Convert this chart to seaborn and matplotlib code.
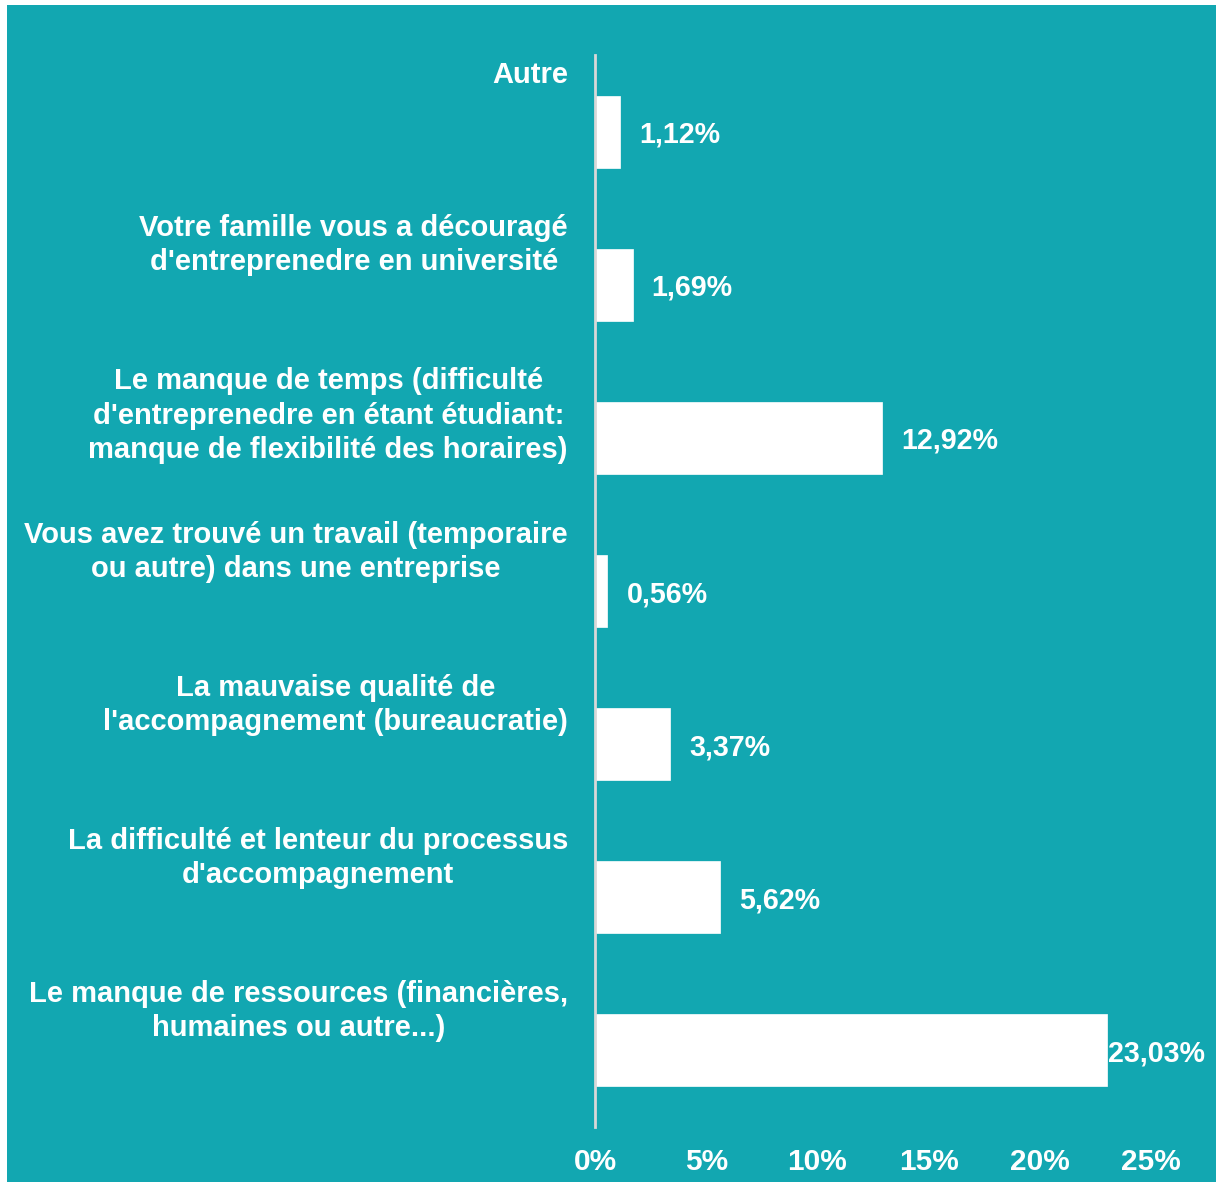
import matplotlib
matplotlib.use("Agg")
import matplotlib.pyplot as plt
import matplotlib.patches as mpatches
import matplotlib.transforms as mtransforms
import seaborn as sns
import pandas as pd

categories = [
    "Autre",
    "Votre famille vous a découragé\nd'entreprenedre en université",
    "Le manque de temps (difficulté\nd'entreprenedre en étant étudiant:\nmanque de flexibilité des horaires)",
    "Vous avez trouvé un travail (temporaire\nou autre) dans une entreprise",
    "La mauvaise qualité de\nl'accompagnement (bureaucratie)",
    "La difficulté et lenteur du processus\nd'accompagnement",
    "Le manque de ressources (financières,\nhumaines ou autre...)",
]
values = [1.12, 1.69, 12.92, 0.56, 3.37, 5.62, 23.03]
tick_values = [0, 5, 10, 15, 20, 25]
tick_labels = ["0%", "5%", "10%", "15%", "20%", "25%"]

TEAL = "#12A7B1"
FONT = ["Liberation Sans", "DejaVu Sans"]

sns.set_theme(style="white")
plt.rcParams["font.family"] = FONT

W, H = 1216, 1182
fig = plt.figure(figsize=(W / 100, H / 100), dpi=100, facecolor="white")
fig.patches.append(mpatches.Rectangle((7 / W, 0), 1 - 7 / W, 1 - 5 / H,
                                      transform=fig.transFigure,
                                      facecolor=TEAL, edgecolor="none", zorder=-10))

ax_left, ax_right = 595 / W, 1151 / W
ax_top, ax_bottom = 1 - 55 / H, 1 - 1127 / H
ax = fig.add_axes([ax_left, ax_bottom, ax_right - ax_left, ax_top - ax_bottom])
ax.set_facecolor("none")
ax.set_zorder(5)

df = pd.DataFrame({"cat": categories, "val": values})
sns.barplot(data=df, y="cat", x="val", orient="h", order=categories,
            color="white", edgecolor="white", linewidth=0.5, width=0.47,
            saturation=1, ax=ax)

ax.set_xlim(0, 25)
ax.set_ylim(len(categories) - 0.5, -0.5)
ax.set_xticks(tick_values)
ax.set_xticklabels(tick_labels)
ax.set_yticks([])
ax.set_xlabel("")
ax.set_ylabel("")
ax.tick_params(axis="x", length=0, pad=15, labelsize=21.5, labelcolor="white")
for lab in ax.get_xticklabels():
    lab.set_fontweight("bold")
    lab.set_family(["Liberation Sans Narrow", "Liberation Sans", "DejaVu Sans"])

for s in ["top", "right", "bottom"]:
    ax.spines[s].set_visible(False)
ax.spines["left"].set_color("#d8d8d8")
ax.spines["left"].set_linewidth(2)

# category labels
lab_trans = mtransforms.offset_copy(ax.get_yaxis_transform(), fig=fig, x=-27, y=0, units="dots")
for i, cat in enumerate(categories):
    ax.text(0, i - 0.5 + 0.04, cat, transform=lab_trans, ha="right", va="top",
            multialignment="center", fontsize=21, fontweight="bold",
            color="white", linespacing=1.28, clip_on=False)

# value labels
for i, v in enumerate(values):
    off = 1 if v > 20 else 19
    t = mtransforms.offset_copy(ax.transData, fig=fig, x=off, y=-3, units="dots")
    ax.text(v, i, f"{v:.2f}%".replace(".", ","), transform=t, ha="left", va="center",
            fontsize=20.6, fontweight="bold", color="white", clip_on=False)

fig.savefig("out.png", dpi=100, facecolor=fig.get_facecolor())
